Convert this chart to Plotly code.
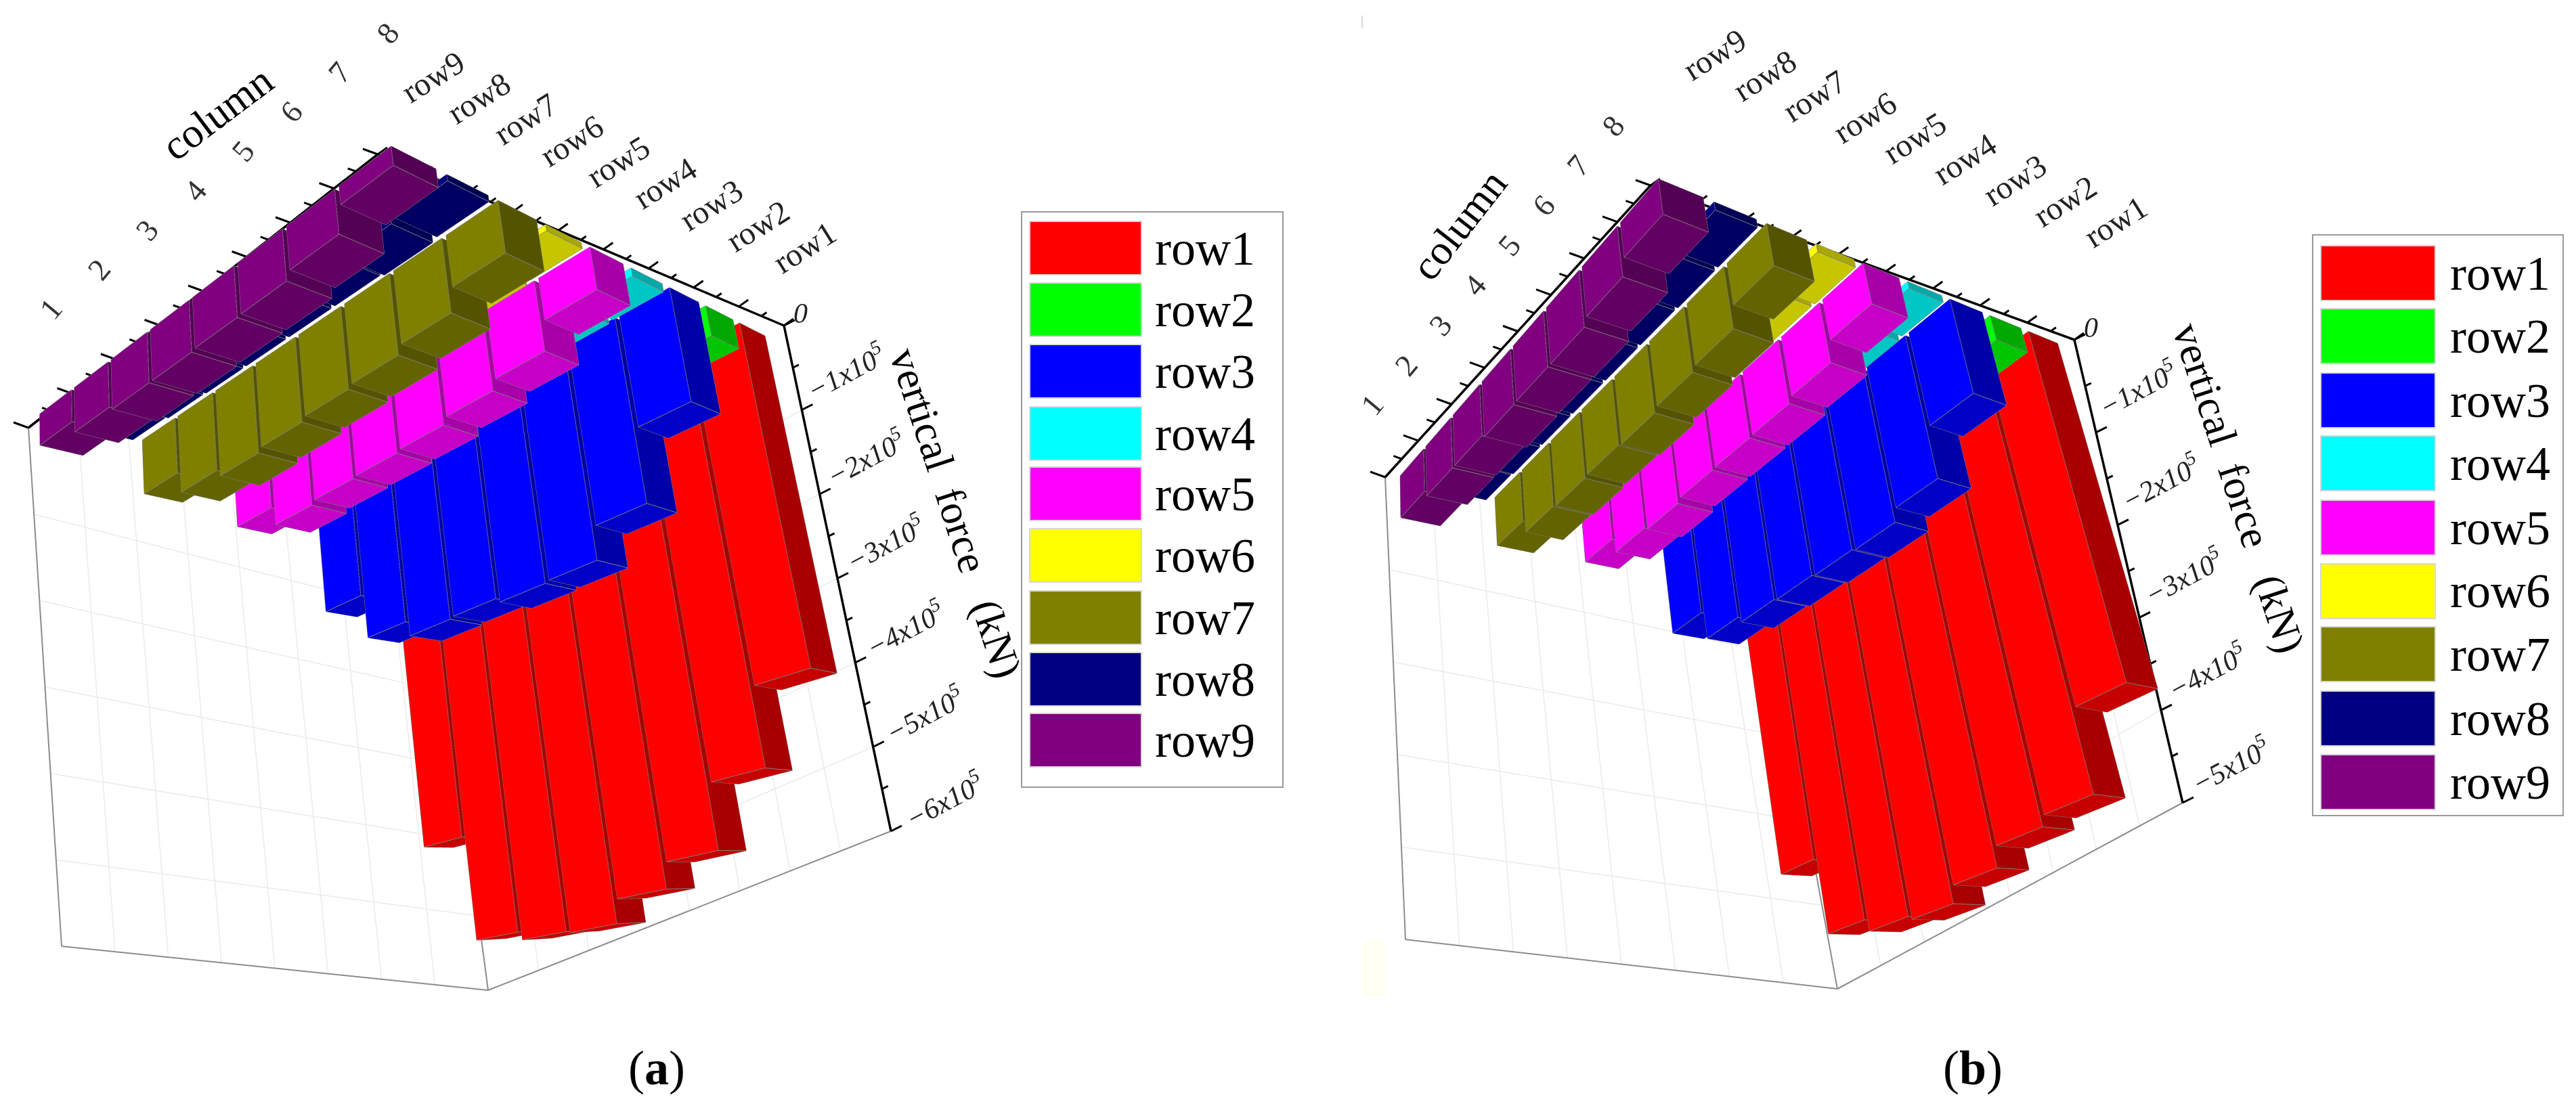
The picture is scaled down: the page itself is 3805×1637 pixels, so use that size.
import numpy as np
import plotly.graph_objects as go

W, H = 3805, 1637
FOCAL = 1.207

row_names = ['row1', 'row2', 'row3', 'row4', 'row5', 'row6', 'row7', 'row8', 'row9']
col_labels = ['1', '2', '3', '4', '5', '6', '7', '8']
colors = ['#ff0000', '#00ff00', '#0000ff', '#00ffff', '#ff00ff', '#ffff00', '#808000', '#000080', '#800080']

# vertical force in units of 1e5 kN, column 1 to 8, one list per row
a_row1 = [4.95, 6.25, 6.35, 6.37, 6.1, 5.81, 5.07, 4.17]
a_row2 = [0.3, 0.3, 0.3, 0.3, 0.3, 0.3, 0.3, 0.38]
a_row3 = [1.85, 2.44, 2.64, 2.62, 2.68, 2.66, 2.27, 1.39]
a_row4 = [0.1, 0.1, 0.1, 0.1, 0.1, 0.1, 0.12, 0.1]
a_row5 = [0.89, 1.14, 1.09, 1.07, 1.04, 0.96, 0.84, 0.5]
a_row6 = [0.08, 0.08, 0.08, 0.08, 0.08, 0.08, 0.1, 0.07]
a_row7 = [0.72, 0.99, 1.08, 1.03, 0.98, 0.94, 0.84, 0.58]
a_row8 = [0.03, 0.06, 0.07, 0.07, 0.07, 0.07, 0.1, 0.07]
a_row9 = [0.4, 0.55, 0.6, 0.6, 0.58, 0.57, 0.48, 0.2]

b_row1 = [4.17, 5.0, 5.13, 5.17, 5.0, 4.8, 4.7, 3.88]
b_row2 = [0.25, 0.25, 0.25, 0.25, 0.25, 0.25, 0.25, 0.3]
b_row3 = [1.33, 1.68, 1.76, 1.78, 1.8, 1.82, 1.68, 1.11]
b_row4 = [0.1, 0.1, 0.1, 0.1, 0.1, 0.1, 0.1, 0.08]
b_row5 = [0.6, 0.79, 0.83, 0.78, 0.77, 0.76, 0.7, 0.47]
b_row6 = [0.08, 0.08, 0.08, 0.08, 0.08, 0.08, 0.08, 0.09]
b_row7 = [0.62, 0.78, 0.8, 0.78, 0.8, 0.75, 0.7, 0.47]
b_row8 = [0.06, 0.08, 0.08, 0.08, 0.08, 0.08, 0.09, 0.09]
b_row9 = [0.52, 0.6, 0.6, 0.64, 0.63, 0.63, 0.55, 0.38]

a_values = [a_row1, a_row2, a_row3, a_row4, a_row5, a_row6, a_row7, a_row8, a_row9]
b_values = [b_row1, b_row2, b_row3, b_row4, b_row5, b_row6, b_row7, b_row8, b_row9]
a_zticks = [0, 1, 2, 3, 4, 5, 6]
b_zticks = [0, 1, 2, 3, 4, 5]


def px(x):
    return x / W


def py(y):
    return 1 - y / H


def lerp(p, q, t):
    return (p[0] + (q[0] - p[0]) * t, p[1] + (q[1] - p[1]) * t)


def scale(color, f):
    c = [int(color[i:i + 2], 16) for i in (1, 3, 5)]
    return 'rgb(%d,%d,%d)' % tuple(int(v * f) for v in c)


def camera_from(vx, vy, vz, box_height, shift):
    # scene edges as they should land on the page, solved for aspect and eye
    a = np.array([
        [vx[0] * vx[1], vy[0] * vy[1]],
        [vx[0] ** 2 - vx[1] ** 2, vy[0] ** 2 - vy[1] ** 2],
    ])
    b = np.array([-vz[0] * vz[1], -(vz[0] ** 2 - vz[1] ** 2)])
    p, q = np.linalg.solve(a, b)
    sp, sq = np.sqrt(p), np.sqrt(q)
    r = np.array([vx[0] * sp, vy[0] * sq, vz[0]], dtype=float)
    t = np.array([vx[1] * sp, vy[1] * sq, vz[1]], dtype=float)
    k = np.linalg.norm(r)
    r, t = r / k, t / np.linalg.norm(t)
    n = np.cross(r, t)
    dist = FOCAL * box_height / k
    center = -(shift[0] * r + shift[1] * t) / k
    eye = center + n * dist
    return dict(
        projection=dict(type='perspective'),
        center=dict(x=center[0], y=center[1], z=center[2]),
        eye=dict(x=eye[0], y=eye[1], z=eye[2]),
        up=dict(x=t[0], y=t[1], z=t[2]),
    ), dict(x=1 / sp, y=1 / sq, z=1)


def add_row(fig, row, vals, color, scene):
    half_r, half_c = 0.4, 0.46
    xs, ys, zs, i, j, k, fc = [], [], [], [], [], [], []
    ex, ey, ez = [], [], []
    shades = [1.0, 1.0, 0.66, 0.66, 0.78, 0.78]
    # corners of the six faces of a box
    quads = [(1, 2, 6, 5), (0, 3, 7, 4), (2, 3, 7, 6), (0, 1, 5, 4), (4, 5, 6, 7), (0, 1, 2, 3)]
    for c, v in enumerate(vals, start=1):
        n = len(xs)
        x0, x1, y0, y1 = row - half_r, row + half_r, c - half_c, c + half_c
        z0, z1 = -v * 1e5, 0
        corners = [(x0, y0, z0), (x1, y0, z0), (x1, y1, z0), (x0, y1, z0),
                   (x0, y0, z1), (x1, y0, z1), (x1, y1, z1), (x0, y1, z1)]
        for q in corners:
            xs.append(q[0])
            ys.append(q[1])
            zs.append(q[2])
        for quad, shade in zip(quads, shades):
            col = scale(color, shade)
            i += [n + quad[0], n + quad[0]]
            j += [n + quad[1], n + quad[2]]
            k += [n + quad[2], n + quad[3]]
            fc += [col, col]
        for a, b in [(0, 1), (1, 2), (2, 3), (3, 0), (4, 5), (5, 6), (6, 7), (7, 4), (0, 4), (1, 5), (2, 6), (3, 7)]:
            ex += [corners[a][0], corners[b][0], None]
            ey += [corners[a][1], corners[b][1], None]
            ez += [corners[a][2], corners[b][2], None]
    fig.add_trace(go.Mesh3d(x=xs, y=ys, z=zs, i=i, j=j, k=k, facecolor=fc, flatshading=True,
                            lighting=dict(ambient=1, diffuse=0, specular=0, roughness=1, fresnel=0),
                            hoverinfo='skip', showscale=False, scene=scene))
    fig.add_trace(go.Scatter3d(x=ex, y=ey, z=ez, mode='lines', line=dict(color='#808080', width=2),
                               hoverinfo='skip', showlegend=False, scene=scene))


def add_panel(fig, scene, values, cfg):
    for r, (vals, color) in enumerate(zip(values, colors), start=1):
        add_row(fig, r, vals, color, scene)
    cam, aspect = camera_from(cfg['vx'], cfg['vy'], cfg['vz'], cfg['box'][3] - cfg['box'][2], cfg['shift'])
    return dict(
        domain=dict(x=[px(cfg['box'][0]), px(cfg['box'][1])], y=[py(cfg['box'][3]), py(cfg['box'][2])]),
        aspectmode='manual', aspectratio=aspect, camera=cam,
        xaxis=dict(visible=False, range=[0, 10]),
        yaxis=dict(visible=False, range=[0, 9]),
        zaxis=dict(visible=False, range=[-7e5, 0]),
        bgcolor='rgba(0,0,0,0)',
    )


def seg(p, q, color, width):
    return dict(type='line', xref='paper', yref='paper', layer='below',
                x0=px(p[0]), y0=py(p[1]), x1=px(q[0]), y1=py(q[1]), line=dict(color=color, width=width))


def frame_parts(zticks, cfg):
    A, B, C = cfg['A'], cfg['B'], cfg['C']
    A2, X2, C2 = cfg['A2'], cfg['X2'], cfg['C2']
    D, D2 = cfg['D'], cfg['D2']
    n_z = max(zticks)
    shapes = []
    for k in range(1, n_z):
        mid = lerp(D2, X2, k / n_z)
        shapes.append(seg(lerp(A, A2, k / n_z), mid, '#ebebeb', 1.5))
        shapes.append(seg(mid, lerp(C, C2, k / n_z), '#ebebeb', 1.5))
    for i in range(1, 8):
        shapes.append(seg(lerp(A, D, i / 8), lerp(A2, X2, i / 8), '#ebebeb', 1.5))
        shapes.append(seg(lerp(D, C, i / 8), lerp(X2, C2, i / 8), '#ebebeb', 1.5))
    shapes += [seg(A, A2, '#8c8c8c', 2), seg(A2, X2, '#8c8c8c', 2), seg(X2, C2, '#8c8c8c', 2), seg(D2, X2, '#8c8c8c', 2)]
    shapes += [seg(A, B, 'black', 3.5), seg(B, C, 'black', 3.5), seg(C, C2, 'black', 3.5)]
    # alternating long and short ticks along the three drawn axes
    for count, p, q, out in [(16, A, B, (-22, -8)), (18, B, C, (14, -10)), (2 * n_z, C, C2, (16, -8))]:
        for i in range(count + 1):
            base = lerp(p, q, i / count)
            f = 1.0 if i % 2 == 0 else 0.55
            shapes.append(seg(base, (base[0] + out[0] * f, base[1] + out[1] * f), 'black', 3))
    return shapes


def tick_notes(zticks, cfg):
    notes = []
    for i, lab in enumerate(col_labels):
        at = lerp(cfg['col_first'], cfg['col_last'], i / 7)
        notes.append(text_note(at[0], at[1], lab, -50, 46, '#333333'))
    for i, lab in enumerate(row_names):
        at = lerp(cfg['row_first'], cfg['row_last'], i / 8)
        notes.append(text_note(at[0], at[1], lab, -32, 48, '#222222'))
    notes.append(text_note(cfg['z0'][0], cfg['z0'][1], '<i>0</i>', 0, 42, '#222222'))
    for t in zticks[1:]:
        at = lerp(cfg['z_first'], cfg['z_last'], (t - 1) / (max(zticks) - 1))
        notes.append(text_note(at[0], at[1], '<i>\u2212%dx10<sup>5</sup></i>' % t, -28, 42, '#222222'))
    return notes


def legend_parts(box, swatch_x, tops, swatch_h, text_x, size):
    shapes = [dict(type='rect', xref='paper', yref='paper', x0=px(box[0]), x1=px(box[2]), y0=py(box[1]), y1=py(box[3]),
                   line=dict(color='#9a9a9a', width=2), fillcolor='white')]
    notes = []
    for name, color, top in zip(row_names, colors, tops):
        shapes.append(dict(type='rect', xref='paper', yref='paper', x0=px(swatch_x[0]), x1=px(swatch_x[1]),
                           y0=py(top), y1=py(top + swatch_h), line=dict(color='#d8d8d8', width=2), fillcolor=color))
        notes.append(dict(xref='paper', yref='paper', x=px(text_x), y=py(top + swatch_h / 2), text=name,
                          showarrow=False, xanchor='left', yanchor='middle',
                          font=dict(family='Liberation Serif', size=size, color='black')))
    return shapes, notes


def text_note(x, y, text, angle, size, color='black'):
    return dict(xref='paper', yref='paper', x=px(x), y=py(y), text=text, showarrow=False, textangle=angle,
                xanchor='center', yanchor='middle', font=dict(family='Liberation Serif', size=size, color=color))


def main():
    fig = go.Figure()
    cfg_a = dict(vx=(-630, 150), vy=(680, 300), vz=(-117, 887), box=(0, 1500, 0, 1637), shift=(-102, -157),
                 A=(42, 632), B=(558, 228), C=(1158, 481), D=(634, 688), D2=(634, 804),
                 A2=(91, 1398), X2=(721, 1463), C2=(1316, 1228),
                 col_first=(75, 457), col_last=(572, 49), row_first=(1188, 365), row_last=(639, 113),
                 z0=(1182, 463), z_first=(1249, 549), z_last=(1394, 1181))
    cfg_b = dict(vx=(-700, 160), vy=(545, 400), vz=(-147, 966), box=(1905, 3300, 0, 1637), shift=(8, -245),
                 A=(2046, 705), B=(2438, 274), C=(3064, 502), D=(2599, 777), D2=(2600, 843),
                 A2=(2076, 1388), X2=(2714, 1461), C2=(3224, 1186),
                 col_first=(2026, 598), col_last=(2382, 186), row_first=(3125, 328), row_last=(2532, 80),
                 z0=(3088, 484), z_first=(3157, 573), z_last=(3294, 1129))
    scene_a = add_panel(fig, 'scene', a_values, cfg_a)
    scene_b = add_panel(fig, 'scene2', b_values, cfg_b)

    shapes_a, notes_a = legend_parts((1509, 313, 1895, 1163), (1521, 1686),
                                     [327, 418, 509, 601, 690, 781, 873, 964, 1054], 79, 1704, 72)
    shapes_b, notes_b = legend_parts((3416, 347, 3786, 1205), (3428, 3597),
                                     [363, 456, 551, 644, 739, 833, 926, 1021, 1115], 81, 3617, 72)
    smudges = [
        dict(type='rect', xref='paper', yref='paper', layer='below', x0=px(2012), x1=px(2046), y0=py(1390), y1=py(1473),
             line=dict(width=0), fillcolor='#fffff2'),
        seg((2012, 23), (2012, 42), '#cccccc', 1.5),
    ]
    notes = notes_a + notes_b + tick_notes(a_zticks, cfg_a) + tick_notes(b_zticks, cfg_b) + [
        text_note(321, 167, 'column', -37, 62),
        text_note(1412, 758, 'vertical\u00a0\u00a0force\u00a0\u00a0\u00a0(kN)', 72, 62),
        text_note(970, 1578, '(<b>a</b>)', 0, 72),
        text_note(2155, 332, 'column', -52, 62),
        text_note(3307, 721, 'vertical\u00a0\u00a0force\u00a0\u00a0\u00a0(kN)', 72, 62),
        text_note(2914, 1578, '(<b>b</b>)', 0, 72),
    ]
    shapes = smudges + frame_parts(a_zticks, cfg_a) + frame_parts(b_zticks, cfg_b) + shapes_a + shapes_b
    fig.update_layout(width=W, height=H, margin=dict(l=0, r=0, t=0, b=0), showlegend=False,
                      paper_bgcolor='white', plot_bgcolor='white',
                      scene=scene_a, scene2=scene_b, shapes=shapes, annotations=notes)
    fig.write_html('out.html', config=dict(displayModeBar=False),
                   post_script='document.body.style.margin="0";')


if __name__ == '__main__':
    main()
